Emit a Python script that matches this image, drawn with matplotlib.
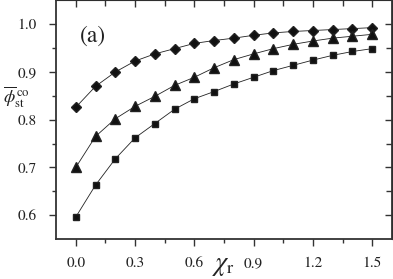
import matplotlib
matplotlib.use("Agg")
import matplotlib.pyplot as plt

# ─── Datos ─────────────────────────────────────────────────────────
chi_r = [0.0, 0.1, 0.2, 0.3, 0.4, 0.5, 0.6, 0.7, 0.8, 0.9, 1.0, 1.1, 1.2, 1.3, 1.4, 1.5]
phi_diamond = [0.826, 0.870, 0.900, 0.923, 0.938, 0.949, 0.960, 0.966, 0.971, 0.977,
               0.982, 0.985, 0.987, 0.989, 0.991, 0.993]
phi_triangle = [0.700, 0.765, 0.802, 0.828, 0.849, 0.872, 0.889, 0.909, 0.926, 0.938,
                0.949, 0.958, 0.965, 0.971, 0.975, 0.979]
phi_square = [0.596, 0.663, 0.718, 0.762, 0.792, 0.822, 0.844, 0.859, 0.875, 0.889,
              0.903, 0.914, 0.925, 0.935, 0.943, 0.949]

x_ticks = [0.0, 0.3, 0.6, 0.9, 1.2, 1.5]
y_ticks = [0.6, 0.7, 0.8, 0.9, 1.0]
x_minor = [0.15, 0.45, 0.75, 1.05, 1.35]
y_minor = [0.65, 0.75, 0.85, 0.95]

plt.rcParams["font.family"] = ["STIXGeneral", "Liberation Serif", "DejaVu Serif"]
plt.rcParams["mathtext.fontset"] = "stix"

fig = plt.figure(figsize=(3.93, 2.79), dpi=100)
ax = fig.add_axes([0.1425, 0.1434, 0.855, 0.855])

line_kw = dict(color="#222222", lw=0.6, mec="#222222", mfc="#111111")
ax.plot(chi_r, phi_diamond, marker="D", ms=5.5, **line_kw)
ax.plot(chi_r, phi_triangle, marker="^", ms=6.5, **line_kw)
ax.plot(chi_r, phi_square, marker="s", ms=5, **line_kw)

ax.set_xlim(-0.1, 1.6)
ax.set_ylim(0.55, 1.05)
ax.set_xticks(x_ticks)
ax.set_yticks(y_ticks)
ax.set_xticks(x_minor, minor=True)
ax.set_yticks(y_minor, minor=True)
ax.set_xticklabels([f"{v:.1f}" for v in x_ticks])
ax.set_yticklabels([f"{v:.1f}" for v in y_ticks])
ax.tick_params(which="both", direction="out", labelsize=11, color="#333333",
               labelcolor="#222222", width=1)
ax.tick_params(which="major", length=5)
ax.tick_params(which="minor", length=3)
ax.tick_params(axis="y", which="major", pad=9)
ax.tick_params(axis="x", which="major", pad=8)

for sp in ax.spines.values():
    sp.set_linewidth(1.3)
    sp.set_color("#333333")

# ticks hacia dentro arriba y a la derecha
top = ax.secondary_xaxis("top")
top.set_xticks(x_ticks)
top.set_xticks(x_minor, minor=True)
top.tick_params(which="both", direction="in", labeltop=False, color="#333333", width=1)
top.tick_params(which="major", length=5)
top.tick_params(which="minor", length=4)
right = ax.secondary_yaxis("right")
right.set_yticks(y_ticks)
right.set_yticks(y_minor, minor=True)
right.tick_params(which="both", direction="in", labelright=False, color="#333333", width=1)
right.tick_params(which="major", length=5)
right.tick_params(which="minor", length=4)

ax.text(0.072, 0.85, "(a)", transform=ax.transAxes, fontsize=17, va="center",
        color="#222222")
fig.text(0.008, 0.65, r"$\overline{\phi}_{\rm st}^{\,\rm co}$", fontsize=13,
         ha="left", va="center", color="#222222")
fig.text(0.57, 0.045, r"$\chi_{\rm r}$", fontsize=19, ha="center", va="center",
         color="#222222")

fig.savefig("out.png", dpi=100)
